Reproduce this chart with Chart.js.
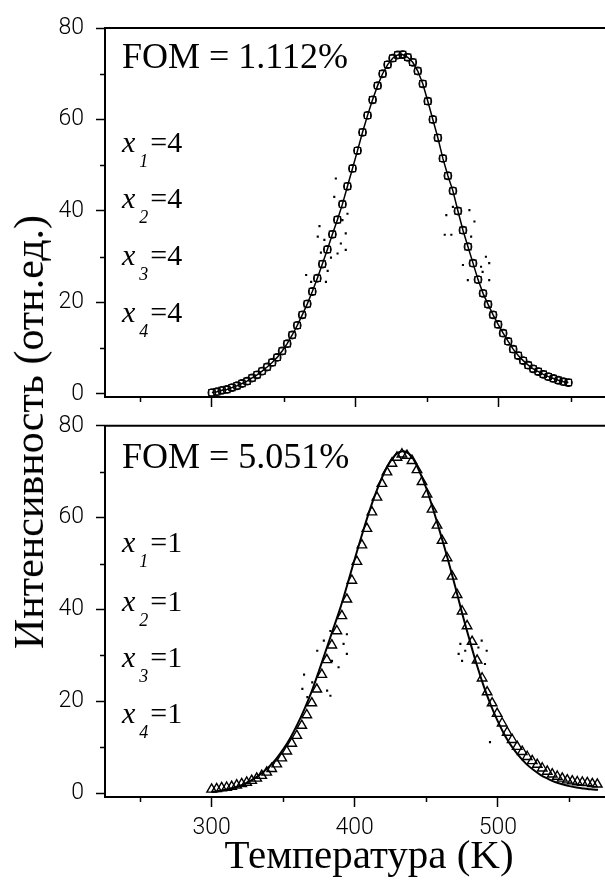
<!DOCTYPE html>
<html>
<head>
<meta charset="utf-8">
<script src="https://cdn.jsdelivr.net/npm/chart.js@4.4.0/dist/chart.umd.min.js"></script>
<style>
html,body{margin:0;padding:0;background:#fff;overflow:hidden;}
#wrap{position:relative;width:605px;height:884px;overflow:hidden;background:#fff;}
canvas{position:absolute;left:0;}
.t{position:absolute;font-family:"Liberation Serif","Times New Roman",serif;color:#000;white-space:nowrap;line-height:1;}
.fom{font-size:36px;left:122px;}
.xv{font-size:30px;left:122px;}
.xv i.x{font-style:italic;}
.xv .s{position:relative;top:15px;font-size:18px;font-style:italic;margin-left:4px;margin-right:2px;}
#ytitle{font-size:42px;left:29px;top:432px;transform:translate(-50%,-50%) rotate(-90deg);}
</style>
</head>
<body>
<div id="wrap">
  <canvas id="c1" width="640" height="427" style="top:0px"></canvas>
  <canvas id="c2" width="640" height="484" style="top:400px"></canvas>
  <div id="ytitle" class="t">Интенсивность (отн.ед.)</div>
  <div class="t fom" style="top:38px">FOM = 1.112%</div>
  <div class="t xv" style="top:127px"><i class="x">x</i><span class="s">1</span>=4</div>
  <div class="t xv" style="top:183px"><i class="x">x</i><span class="s">2</span>=4</div>
  <div class="t xv" style="top:240px"><i class="x">x</i><span class="s">3</span>=4</div>
  <div class="t xv" style="top:297px"><i class="x">x</i><span class="s">4</span>=4</div>
  <div class="t fom" style="top:438px">FOM = 5.051%</div>
  <div class="t xv" style="top:527px"><i class="x">x</i><span class="s">1</span>=1</div>
  <div class="t xv" style="top:586px"><i class="x">x</i><span class="s">2</span>=1</div>
  <div class="t xv" style="top:642px"><i class="x">x</i><span class="s">3</span>=1</div>
  <div class="t xv" style="top:698px"><i class="x">x</i><span class="s">4</span>=1</div>
</div>
<script>
// ---------- data ----------
const tempTicks = [300, 400, 500];
const tempMinorTicks = [250, 350, 450, 550];
const intensityTicks = [0, 20, 40, 60, 80];
const intensityMinorTicks = [10, 30, 50, 70];

// top panel (FOM = 1.112%): experimental points + fit
const topTemp = [300,303.5,307,310.5,314,317.5,321,324.5,328,331.5,335,338.5,342,345.5,349,352.5,356,359.5,363,366.5,370,373.5,377,380.5,384,387.5,391,394.5,398,401.5,405,408.5,412,415.5,419,422.5,426,429.5,433,436.5,440,443.5,447,450.5,454,457.5,461,464.5,468,471.5,475,478.5,482,485.5,489,492.5,496,499.5,503,506.5,510,513.5,517,520.5,524,527.5,531,534.5,538,541.5,545,548.5];
const topIntensity = [0.3,0.5,0.8,1.0,1.4,1.8,2.3,2.8,3.5,4.2,5.0,5.9,6.9,8.0,9.4,11.0,12.9,15.0,17.3,19.7,22.4,25.3,28.4,31.6,34.9,38.1,41.5,45.4,49.3,53.2,57.2,60.9,64.3,67.4,70.0,72.0,73.4,74.1,74.2,73.6,72.5,70.6,67.8,64.0,60.0,56.0,51.5,47.7,44.4,40.0,35.8,32.2,28.6,25.0,22.0,19.6,17.3,15.2,13.3,11.5,9.8,8.4,7.3,6.3,5.5,4.9,4.3,3.8,3.4,3.0,2.7,2.5];
const topNoiseTemp = [375,373.8,393.3,365.7,389.9,394.5,393.3,380.7,383,376,369.2,379.5,387.6,391,378.4,386.4,385.3,462.3,463.4,483,479.5,475,493.3,491,493.3,478.4,488.7,466.9,468,480.7,487.6];
const topNoiseIntensity = [36.7,34.4,31.5,26.0,32.9,39.4,35.1,26.9,29.8,30.9,24.5,24.5,30.7,38.0,33.7,47.1,43.1,34.8,39.1,37.7,40.2,28.2,28.6,30.0,24.9,24.9,26.7,34.8,40.9,34.4,27.8];

// bottom panel (FOM = 5.051%): triangles + fitted curve
const bottomTriTemp = [300,303.5,307,310.5,314,317.5,321,324.5,328,331.5,335,338.5,342,345.5,349,352.5,356,359.5,363,366.5,370,373.5,377,380.5,384,387.5,391,394.5,398,401.5,405,408.5,412,415.5,419,422.5,426,429.5,433,436.5,440,443.5,447,450.5,454,457.5,461,464.5,468,471.5,475,478.5,482,485.5,489,492.5,496,499.5,503,506.5,510,513.5,517,520.5,524,527.5,531,534.5,538,541.5,545,548.5,552,555.5,559,562.5,566,569.5];
const bottomTriIntensity = [0.8,0.9,1.1,1.2,1.4,1.7,2.0,2.3,2.7,3.2,3.8,4.5,5.3,6.3,7.6,9.1,10.8,12.5,14.7,17.0,19.6,22.6,25.8,29.0,32.2,35.3,38.6,42.2,46.3,50.4,54.0,57.6,61.2,64.4,67.4,69.9,71.8,73.1,73.8,73.5,72.4,70.4,67.8,65.1,61.8,58.3,55.0,51.2,47.2,43.2,39.6,36.4,33.0,28.9,25.0,22.0,19.6,17.3,15.2,13.2,11.6,10.1,9.0,7.9,7.0,6.2,5.4,4.7,4.1,3.6,3.2,2.8,2.6,2.4,2.3,2.2,2.0,1.9];
const bottomFitTemp = [300,305,310,315,320,325,330,335,340,345,350,355,360,365,370,375,380,385,390,395,400,405,410,415,420,425,430,435,440,445,450,455,460,465,470,475,480,485,490,495,500,505,510,515,520,525,530,535,540,545,550,555,560,565,570];
const bottomFitIntensity = [0.2,0.4,0.7,1.1,1.6,2.3,3.2,4.3,5.7,7.4,9.5,12.0,15.0,18.4,22.2,26.6,31.2,35.8,40.4,45.6,51.0,56.2,61.2,65.6,69.4,72.3,74.1,74.4,73.2,70.2,66.4,61.6,56.4,51.0,45.2,39.2,33.6,28.2,23.4,19.2,15.6,12.5,10.0,8.0,6.3,5.0,3.9,3.1,2.4,1.9,1.5,1.2,1.0,0.8,0.7];
const bottomNoiseTemp = [364.6,363.4,373.8,383,394.5,394.5,388.7,383,370.3,378.4,392.2,380.7,366.9,384.1,473.8,475,488.7,492.2,491,477.2,494.5,472.6,486.4,484.1];
const bottomNoiseIntensity = [25.8,22.7,31.0,35.3,34.6,30.3,27.4,21.2,24.1,33.2,32.5,22.3,20.9,28.8,32.5,28.8,33.2,31.0,28.1,31.0,11.1,30.3,31.7,28.5];

const xTitleText = 'Температура (K)';

// ---------- helpers ----------
const pts = (xs, ys) => xs.map((x, i) => ({x: x, y: ys[i]}));
const SERIF = '"Liberation Serif","Times New Roman",serif';
const TICKFONT = {family: 'Roboto, "Liberation Sans", sans-serif', size: 23, weight: '300'};

const framePlugin = {
  id: 'frame',
  afterDraw(chart) {
    const {ctx, chartArea: a, scales} = chart;
    ctx.save();
    ctx.strokeStyle = '#000';
    ctx.lineWidth = 2;
    ctx.beginPath();
    ctx.moveTo(a.left - 1, a.top);
    ctx.lineTo(a.right, a.top);
    ctx.stroke();
    ctx.lineWidth = 1.5;
    ctx.beginPath();
    tempMinorTicks.forEach(v => {
      const px = Math.round(scales.x.getPixelForValue(v)) + 0.5;
      ctx.moveTo(px, a.bottom); ctx.lineTo(px, a.bottom + 5);
    });
    intensityMinorTicks.forEach(v => {
      const py = Math.round(scales.y.getPixelForValue(v)) + 0.5;
      ctx.moveTo(a.left, py); ctx.lineTo(a.left - 5, py);
    });
    ctx.stroke();
    ctx.restore();
  }
};

function makePanel(id, datasets, yMin, padTop, xHeight, showXLabels) {
  return new Chart(document.getElementById(id), {
    type: 'scatter',
    data: {datasets: datasets},
    options: {
      responsive: false,
      animation: false,
      devicePixelRatio: 1,
      layout: {padding: {top: padTop, right: 0, bottom: 0, left: 0}},
      plugins: {legend: {display: false}, tooltip: {enabled: false}},
      scales: {
        x: {
          type: 'linear', min: 225.5, max: 594.5,
          afterBuildTicks: s => { s.ticks = tempTicks.map(v => ({value: v})); },
          afterFit: s => { s.height = xHeight; },
          grid: {drawOnChartArea: false, drawTicks: true, tickLength: 10, tickWidth: 1.5, tickColor: '#000'},
          border: {display: true, color: '#000', width: 2},
          ticks: {
            color: '#000', font: TICKFONT, padding: 7, maxRotation: 0, autoSkip: false,
            callback: v => showXLabels ? String(v) : ''
          },
          title: {
            display: showXLabels, text: xTitleText, color: '#000',
            font: {family: SERIF, size: 41}, padding: {top: 0, bottom: 2}
          }
        },
        y: {
          type: 'linear', min: yMin, max: 80,
          afterBuildTicks: s => { s.ticks = intensityTicks.map(v => ({value: v})); },
          afterFit: s => { s.width = 105; },
          grid: {drawOnChartArea: false, drawTicks: true, tickLength: 9, tickWidth: 1.5, tickColor: '#000'},
          border: {display: true, color: '#000', width: 2},
          ticks: {color: '#000', font: TICKFONT, padding: 12, autoSkip: false}
        }
      }
    },
    plugins: [framePlugin]
  });
}

const noiseStyle = {showLine: false, pointStyle: 'rect', pointRadius: 1.5, pointBorderWidth: 0, pointBackgroundColor: '#000'};

makePanel('c1', [
  Object.assign({data: pts(topNoiseTemp, topNoiseIntensity)}, noiseStyle),
  {
    data: pts(topTemp, topIntensity), showLine: true, borderColor: '#000', borderWidth: 1.5,
    tension: 0, pointStyle: 'circle', pointRadius: 3.8, pointBorderWidth: 1.2,
    pointBorderColor: '#000', pointBackgroundColor: 'rgba(0,0,0,0)'
  },
  {
    data: pts(topTemp, topIntensity), showLine: false, pointStyle: 'rect', pointRadius: 4.4,
    pointBorderWidth: 1.2, pointBorderColor: '#000', pointBackgroundColor: 'rgba(0,0,0,0)'
  }
], -0.656, 28, 30, false);

makePanel('c2', [
  Object.assign({data: pts(bottomNoiseTemp, bottomNoiseIntensity)}, noiseStyle),
  {
    data: pts(bottomFitTemp, bottomFitIntensity), showLine: true, borderColor: '#000', borderWidth: 2,
    tension: 0.3, pointRadius: 0
  },
  {
    data: pts(bottomTriTemp, bottomTriIntensity), showLine: false, pointStyle: 'triangle', pointRadius: 5.5,
    pointBorderWidth: 1.4, pointBorderColor: '#000', pointBackgroundColor: 'rgba(0,0,0,0)'
  }
], -0.867, 24, 87, true);
</script>
</body>
</html>
